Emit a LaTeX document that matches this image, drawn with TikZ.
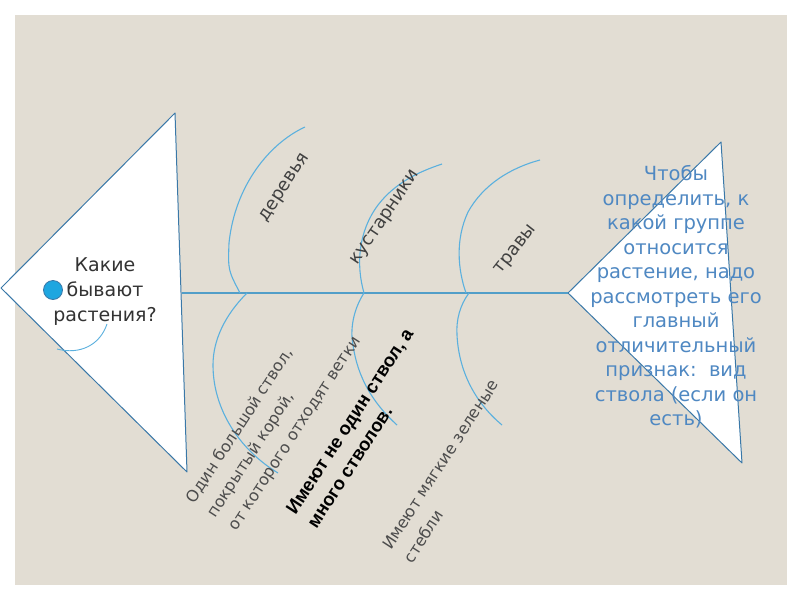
\documentclass[tikz,border=0pt]{standalone}
\usepackage{fontspec}
\setmainfont{DejaVu Sans}
\newfontfamily\boldsans{Liberation Sans}
\usetikzlibrary{positioning}

\definecolor{paper}{HTML}{E2DDD3}
\definecolor{finline}{HTML}{3A78A8}
\definecolor{bone}{HTML}{5BB0DE}
\definecolor{notecol}{HTML}{4F88C2}
\definecolor{dotcol}{HTML}{1EA6E0}

\begin{document}
\begin{tikzpicture}[
    x=1pt, y=-1pt,
    fin/.style={draw=finline, fill=white, line width=1pt, line join=round},
    rib/.style={draw=bone, line width=1.1pt},
    cat/.style={font=\fontsize{18}{22}\selectfont, text=black!75, inner sep=0pt},
    why/.style={font=\fontsize{16}{25}\selectfont, text=black!70, align=left, inner sep=0pt, rotate=57},
    font=\fontsize{17}{25}\selectfont
  ]
    \useasboundingbox (0,0) rectangle (800,600);
    \fill[paper] (15,15) rectangle (787,585);

    % head and tail of the fish
    \draw[fin] (1,288) -- (175,113) -- (187,472) -- cycle;
    \draw[fin] (568,293) -- (721,142) -- (742,463) -- cycle;

    \coordinate (tail) at (182,293);
    \coordinate (head) at (568,293);
    \coordinate (r1) at (247,293);
    \coordinate (r2) at (364,293);
    \coordinate (r3) at (469,293);
    \draw[draw=bone!90!black, line width=1.1pt] (tail) -- (head);

    % upper ribs
    \draw[rib] (r1) ++(-7,0) .. controls (228,270) .. (229,243) .. controls (235,185) and (270,143) .. (305,127);
    \draw[rib] (r2) .. controls (356,265) and (358,232) .. (378,205) .. controls (395,183) and (418,172) .. (442,164);
    \draw[rib] (r3) ++(-3,0) .. controls (458,270) and (455,240) .. (468,212) .. controls (483,185) and (510,168) .. (540,160);

    % lower ribs
    \draw[rib] (r1) .. controls (225,315) and (213,340) .. (213,365) .. controls (213,410) and (240,450) .. (278,473);
    \draw[rib] (r2) .. controls (353,310) and (350,330) .. (353,345) .. controls (358,380) and (375,405) .. (397,425);
    \draw[rib] (r3) .. controls (460,305) and (456,320) .. (457,335) .. controls (459,375) and (478,405) .. (502,425);

    % question in the head
    \node[align=center, text=black!80, inner sep=0pt, font=\fontsize{19}{25}\selectfont] (ask) at (105,292) {Какие\\бывают\\растения?};
    \node[circle, fill=dotcol, draw=finline, line width=0.8pt, minimum size=19pt, inner sep=0pt] (dot) at (53,290) {};
    \draw[rib, line width=0.9pt] (107,324) .. controls (100,345) and (80,355) .. (57,349);

    % groups
    \node[cat, rotate=57] (trees) at (285,188) {деревья};
    \node[cat, rotate=56] (shrubs) at (386,218) {кустарники};
    \node[cat, rotate=52] (grass) at (516,250) {травы};

    % signs
    \node[why] (treesign) at (274,420) {Один большой ствол,\\покрытый корой,\\от которого отходят ветки};
    \node[why, font=\fontsize{18.5}{25}\boldsans\bfseries, text=black] (shrubsign) at (360,428) {Имеют не один ствол, а\\много стволов.};
    \node[why] (grasssign) at (451,471) {Имеют мягкие зеленые\\стебли};

    % note in the tail
    \node[align=center, text=notecol, inner sep=0pt, font=\fontsize{19.5}{24.5}\selectfont] (note) at (676,297)
      {Чтобы\\определить, к\\какой группе\\относится\\растение, надо\\рассмотреть его\\главный\\отличительный\\признак:\ \ вид\\ствола (если он\\есть)};
  \end{tikzpicture}
\end{document}
